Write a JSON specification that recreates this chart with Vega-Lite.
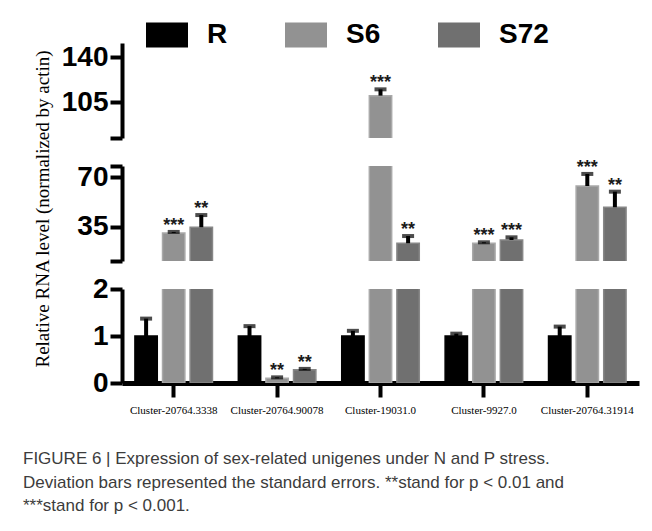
{
  "$schema": "https://vega.github.io/schema/vega-lite/v6.json",
  "padding": {"left": 22, "top": 14, "right": 5, "bottom": 5},
  "autosize": {"type": "pad"},
  "bounds": "flush",
  "spacing": 28,
  "title": {
    "text": ["FIGURE 6 | Expression of sex-related unigenes under N and P stress.", "Deviation bars represented the standard errors. **stand for p < 0.01 and", "***stand for p < 0.001."],
    "orient": "bottom", "anchor": "start", "frame": "bounds",
    "font": "Liberation Sans", "fontSize": 17, "fontWeight": "normal", "color": "#3c3c3c",
    "lineHeight": 23.5, "offset": 36, "dx": -10
  },
  "data": {"values": [
    {"gene": "Cluster-20764.3338", "series": "R", "value": 1.0, "err": 1.37, "sig": ""},
    {"gene": "Cluster-20764.3338", "series": "S6", "value": 30.8, "err": 31.5, "sig": "***"},
    {"gene": "Cluster-20764.3338", "series": "S72", "value": 34.8, "err": 43.4, "sig": "**"},
    {"gene": "Cluster-20764.90078", "series": "R", "value": 1.0, "err": 1.21, "sig": ""},
    {"gene": "Cluster-20764.90078", "series": "S6", "value": 0.1, "err": 0.12, "sig": "**"},
    {"gene": "Cluster-20764.90078", "series": "S72", "value": 0.28, "err": 0.3, "sig": "**"},
    {"gene": "Cluster-19031.0", "series": "R", "value": 1.0, "err": 1.11, "sig": ""},
    {"gene": "Cluster-19031.0", "series": "S6", "value": 110, "err": 114.9, "sig": "***"},
    {"gene": "Cluster-19031.0", "series": "S72", "value": 23.5, "err": 28.6, "sig": "**"},
    {"gene": "Cluster-9927.0", "series": "R", "value": 1.0, "err": 1.05, "sig": ""},
    {"gene": "Cluster-9927.0", "series": "S6", "value": 23.5, "err": 24.2, "sig": "***"},
    {"gene": "Cluster-9927.0", "series": "S72", "value": 25.8, "err": 27.7, "sig": "***"},
    {"gene": "Cluster-20764.31914", "series": "R", "value": 1.0, "err": 1.2, "sig": ""},
    {"gene": "Cluster-20764.31914", "series": "S6", "value": 63.9, "err": 72.4, "sig": "***"},
    {"gene": "Cluster-20764.31914", "series": "S72", "value": 48.9, "err": 59.9, "sig": "**"}
  ]},
  "vconcat": [
    {
      "width": 517, "height": 95,
      "encoding": {
        "x": {"field": "gene", "type": "nominal", "sort": null, "scale": {"type": "band", "paddingInner": 0.25, "paddingOuter": 0.125, "domain": ["Cluster-20764.3338", "Cluster-20764.90078", "Cluster-19031.0", "Cluster-9927.0", "Cluster-20764.31914"]}, "axis": null},
        "xOffset": {"field": "series", "type": "nominal", "scale": {"domain": ["R", "S6", "S72"], "paddingInner": 0.19, "paddingOuter": 0}},
        "y": {"field": "value", "type": "quantitative", "title": null, "scale": {"domain": [77, 151], "zero": false, "nice": false},
          "axis": {"values": [77, 105, 140], "labelExpr": "datum.value == 77 ? '' : datum.label", "grid": false, "domainWidth": 4, "domainColor": "#000", "tickWidth": 4, "tickColor": "#000", "tickSize": 12, "labelFont": "Liberation Sans", "labelFontWeight": "bold", "labelFontSize": 28, "labelColor": "#000", "labelPadding": 2, "labelOverlap": false}}
      },
      "layer": [
        {
          "transform": [{"filter": "datum.value > 77"}],
          "mark": {"type": "bar", "clip": true, "strokeWidth": 1.5},
          "encoding": {
            "color": {"field": "series", "type": "nominal", "scale": {"domain": ["R", "S6", "S72"], "range": ["#000000", "#929292", "#707070"]},
              "legend": {"title": null, "orient": "none", "legendX": 24, "legendY": -29, "direction": "horizontal", "symbolType": "M-1,-0.6H1V0.6H-1Z", "symbolSize": 1764, "symbolStrokeWidth": 0, "symbolOpacity": 1, "labelFont": "Liberation Sans", "labelFontWeight": "bold", "labelFontSize": 28, "labelColor": "#000", "labelOffset": 19, "columnPadding": 57}},
            "stroke": {"field": "series", "type": "nominal", "scale": {"domain": ["R", "S6", "S72"], "range": ["#000000", "#a9a9a9", "#878787"]}, "legend": null}
          }
        },
        {
          "transform": [{"filter": "datum.err > 77 && datum.err <= 151"}],
          "mark": {"type": "rule", "strokeWidth": 4, "color": "#000"},
          "encoding": {"y2": {"field": "err"}}
        },
        {
          "transform": [{"filter": "datum.err > 77 && datum.err <= 151"}],
          "mark": {"type": "tick", "thickness": 4, "size": 12, "color": "#000"},
          "encoding": {"y": {"field": "err", "type": "quantitative", "title": null}}
        },
        {
          "transform": [{"filter": "datum.err > 77 && datum.err <= 151"}],
          "mark": {"type": "text", "font": "Liberation Sans", "fontWeight": "bold", "fontSize": 18, "baseline": "alphabetic", "dy": -1, "color": "#1b1b1b"},
          "encoding": {"y": {"field": "err", "type": "quantitative", "title": null}, "text": {"field": "sig"}}
        }
      ]
    },
    {
      "width": 517, "height": 95,
      "encoding": {
        "x": {"field": "gene", "type": "nominal", "sort": null, "scale": {"type": "band", "paddingInner": 0.25, "paddingOuter": 0.125, "domain": ["Cluster-20764.3338", "Cluster-20764.90078", "Cluster-19031.0", "Cluster-9927.0", "Cluster-20764.31914"]}, "axis": null},
        "xOffset": {"field": "series", "type": "nominal", "scale": {"domain": ["R", "S6", "S72"], "paddingInner": 0.19, "paddingOuter": 0}},
        "y": {"field": "value", "type": "quantitative", "scale": {"domain": [11, 78], "zero": false, "nice": false},
          "axis": {"title": "Relative RNA level (normalized by actin)", "titleFont": "Liberation Serif", "titleFontSize": 19, "titleFontWeight": "normal", "titleColor": "#000", "titleX": -80, "titleY": 42.5, "titleAngle": -90, "titleBaseline": "middle", "titleAlign": "center",
            "values": [11, 35, 70, 78], "labelExpr": "(datum.value == 11 || datum.value == 78) ? '' : datum.label", "grid": false, "domainWidth": 4, "domainColor": "#000", "tickWidth": 4, "tickColor": "#000", "tickSize": 12, "labelFont": "Liberation Sans", "labelFontWeight": "bold", "labelFontSize": 28, "labelColor": "#000", "labelPadding": 2, "labelOverlap": false}}
      },
      "layer": [
        {
          "transform": [{"filter": "datum.value > 11"}],
          "mark": {"type": "bar", "clip": true, "strokeWidth": 1.5},
          "encoding": {
            "color": {"field": "series", "type": "nominal", "scale": {"domain": ["R", "S6", "S72"], "range": ["#000000", "#929292", "#707070"]},
              "legend": {"title": null, "orient": "none", "legendX": 24, "legendY": -29, "direction": "horizontal", "symbolType": "M-1,-0.6H1V0.6H-1Z", "symbolSize": 1764, "symbolStrokeWidth": 0, "symbolOpacity": 1, "labelFont": "Liberation Sans", "labelFontWeight": "bold", "labelFontSize": 28, "labelColor": "#000", "labelOffset": 19, "columnPadding": 57}},
            "stroke": {"field": "series", "type": "nominal", "scale": {"domain": ["R", "S6", "S72"], "range": ["#000000", "#a9a9a9", "#878787"]}, "legend": null}
          }
        },
        {
          "transform": [{"filter": "datum.err > 11 && datum.err <= 78"}],
          "mark": {"type": "rule", "strokeWidth": 4, "color": "#000"},
          "encoding": {"y2": {"field": "err"}}
        },
        {
          "transform": [{"filter": "datum.err > 11 && datum.err <= 78"}],
          "mark": {"type": "tick", "thickness": 4, "size": 12, "color": "#000"},
          "encoding": {"y": {"field": "err", "type": "quantitative"}}
        },
        {
          "transform": [{"filter": "datum.err > 11 && datum.err <= 78"}],
          "mark": {"type": "text", "font": "Liberation Sans", "fontWeight": "bold", "fontSize": 18, "baseline": "alphabetic", "dy": -1, "color": "#1b1b1b"},
          "encoding": {"y": {"field": "err", "type": "quantitative"}, "text": {"field": "sig"}}
        }
      ]
    },
    {
      "width": 517, "height": 94,
      "encoding": {
        "x": {"field": "gene", "type": "nominal", "sort": null, "title": null, "scale": {"type": "band", "paddingInner": 0.25, "paddingOuter": 0.125, "domain": ["Cluster-20764.3338", "Cluster-20764.90078", "Cluster-19031.0", "Cluster-9927.0", "Cluster-20764.31914"]},
          "axis": {"domainWidth": 5, "domainColor": "#000", "tickWidth": 4, "tickSize": 14, "tickColor": "#000", "labelFont": "Liberation Serif", "labelFontSize": 11, "labelColor": "#000", "labelPadding": 7, "labelAngle": 0, "labelOverlap": false}},
        "xOffset": {"field": "series", "type": "nominal", "scale": {"domain": ["R", "S6", "S72"], "paddingInner": 0.19, "paddingOuter": 0}},
        "y": {"field": "value", "type": "quantitative", "title": null, "scale": {"domain": [0, 2], "zero": false, "nice": false},
          "axis": {"values": [0, 1, 2], "labelExpr": "'' + datum.value", "grid": false, "domainWidth": 4, "domainColor": "#000", "tickWidth": 4, "tickColor": "#000", "tickSize": 12, "labelFont": "Liberation Sans", "labelFontWeight": "bold", "labelFontSize": 28, "labelColor": "#000", "labelPadding": 2, "labelOverlap": false, "labelBound": false, "labelFlush": false}}
      },
      "layer": [
        {
          "mark": {"type": "bar", "clip": true, "strokeWidth": 1.5},
          "encoding": {
            "color": {"field": "series", "type": "nominal", "scale": {"domain": ["R", "S6", "S72"], "range": ["#000000", "#929292", "#707070"]},
              "legend": {"title": null, "orient": "none", "legendX": 24, "legendY": -29, "direction": "horizontal", "symbolType": "M-1,-0.6H1V0.6H-1Z", "symbolSize": 1764, "symbolStrokeWidth": 0, "symbolOpacity": 1, "labelFont": "Liberation Sans", "labelFontWeight": "bold", "labelFontSize": 28, "labelColor": "#000", "labelOffset": 19, "columnPadding": 57}},
            "stroke": {"field": "series", "type": "nominal", "scale": {"domain": ["R", "S6", "S72"], "range": ["#000000", "#a9a9a9", "#878787"]}, "legend": null}
          }
        },
        {
          "transform": [{"filter": "datum.err <= 2"}],
          "mark": {"type": "rule", "strokeWidth": 4, "color": "#000"},
          "encoding": {"y2": {"field": "err"}}
        },
        {
          "transform": [{"filter": "datum.err <= 2"}],
          "mark": {"type": "tick", "thickness": 4, "size": 12, "color": "#000"},
          "encoding": {"y": {"field": "err", "type": "quantitative", "title": null}}
        },
        {
          "transform": [{"filter": "datum.err <= 2"}],
          "mark": {"type": "text", "font": "Liberation Sans", "fontWeight": "bold", "fontSize": 18, "baseline": "alphabetic", "dy": -1, "color": "#1b1b1b"},
          "encoding": {"y": {"field": "err", "type": "quantitative", "title": null}, "text": {"field": "sig"}}
        }
      ]
    }
  ],
  "resolve": {"scale": {"y": "independent"}},
  "config": {"view": {"stroke": null}, "axis": {"grid": false}}
}
